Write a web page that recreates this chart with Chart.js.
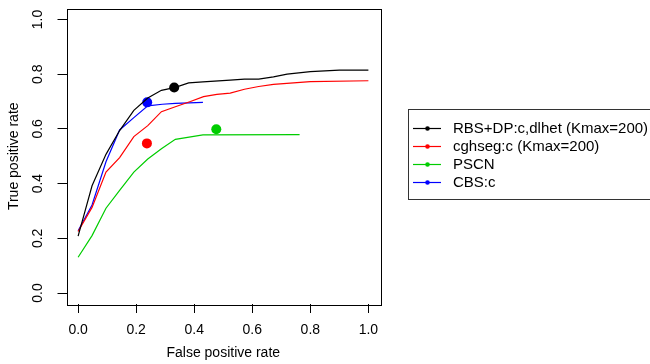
<!DOCTYPE html>
<html lang="en">
<head>
    <meta charset="UTF-8">
    <title>ROC curves</title>
    <script src="https://cdn.jsdelivr.net/npm/chart.js"></script>
    <style>
        body {
            margin: 0;
            padding: 0;
            background: #fff;
        }
        #wrap {
            width: 650px;
            height: 364px;
        }
    </style>
</head>
<body>

<div id="wrap">
    <canvas id="roc-chart" width="650" height="364"></canvas>
</div>

<script>
    // series names and colours (R palette 1..4)
    const seriesNames = ['RBS+DP:c,dlhet (Kmax=200)', 'cghseg:c (Kmax=200)', 'PSCN', 'CBS:c'];
    const seriesColors = ['#000000', '#ff0000', '#00cd00', '#0000ff'];

    // curves
    const rbsX = [0, 0.048, 0.096, 0.143, 0.192, 0.24, 0.287, 0.335, 0.381, 0.43, 0.524, 0.573, 0.622, 0.673, 0.72, 0.8, 0.9, 1.0];
    const rbsY = [0.208, 0.392, 0.507, 0.594, 0.668, 0.713, 0.741, 0.752, 0.768, 0.772, 0.778, 0.782, 0.782, 0.79, 0.80, 0.809, 0.815, 0.815];

    const cghX = [0, 0.048, 0.096, 0.143, 0.192, 0.24, 0.287, 0.335, 0.387, 0.432, 0.478, 0.524, 0.573, 0.622, 0.673, 0.8, 1.0];
    const cghY = [0.225, 0.313, 0.442, 0.495, 0.572, 0.612, 0.663, 0.681, 0.700, 0.718, 0.726, 0.731, 0.745, 0.755, 0.763, 0.773, 0.776];

    const pscnX = [0, 0.048, 0.096, 0.143, 0.192, 0.24, 0.287, 0.335, 0.43, 0.763];
    const pscnY = [0.131, 0.21, 0.31, 0.375, 0.442, 0.49, 0.527, 0.562, 0.578, 0.579];

    const cbsX = [0, 0.048, 0.096, 0.143, 0.192, 0.24, 0.29, 0.335, 0.43];
    const cbsY = [0.228, 0.322, 0.48, 0.596, 0.641, 0.684, 0.69, 0.693, 0.697];

    // single operating points (big dots)
    const dotX = [0.331, 0.237, 0.476, 0.238];
    const dotY = [0.751, 0.547, 0.599, 0.697];

    const axisTicks = [0, 0.2, 0.4, 0.6, 0.8, 1.0];

    const curvesX = [rbsX, cghX, pscnX, cbsX];
    const curvesY = [rbsY, cghY, pscnY, cbsY];

    const FONT = 'Liberation Sans, Arial, Helvetica, sans-serif';

    function toPoints(xs, ys) {
        return xs.map((x, i) => ({ x: x, y: ys[i] }));
    }

    const datasets = [];
    seriesNames.forEach((name, i) => {
        datasets.push({
            label: name,
            data: toPoints(curvesX[i], curvesY[i]),
            showLine: true,
            borderColor: seriesColors[i],
            backgroundColor: seriesColors[i],
            borderWidth: 1.2,
            pointRadius: 0,
            tension: 0
        });
    });
    seriesNames.forEach((name, i) => {
        datasets.push({
            label: name + ' point',
            data: [{ x: dotX[i], y: dotY[i] }],
            showLine: false,
            borderColor: seriesColors[i],
            backgroundColor: seriesColors[i],
            pointRadius: 5,
            pointBorderWidth: 0
        });
    });

    // box round the plot and the R style legend on the right
    const boxAndLegend = {
        id: 'boxAndLegend',
        afterDraw(chart) {
            const ctx = chart.ctx;
            const a = chart.chartArea;
            ctx.save();
            ctx.strokeStyle = '#000';
            ctx.lineWidth = 1;
            ctx.strokeRect(Math.round(a.left) + 0.5, Math.round(a.top) + 0.5,
                Math.round(a.right - a.left), Math.round(a.bottom - a.top));

            // legend
            ctx.strokeStyle = '#333';
            ctx.strokeRect(408.5, 109.5, 260, 90);
            ctx.font = '15px ' + FONT;
            ctx.textBaseline = 'middle';
            ctx.textAlign = 'left';
            seriesNames.forEach((name, i) => {
                const y = 128.5 + i * 18;
                ctx.strokeStyle = seriesColors[i];
                ctx.lineWidth = 1.2;
                ctx.beginPath();
                ctx.moveTo(413, y);
                ctx.lineTo(441, y);
                ctx.stroke();
                ctx.fillStyle = seriesColors[i];
                ctx.beginPath();
                ctx.arc(427.5, y, 2.3, 0, Math.PI * 2);
                ctx.fill();
                ctx.fillStyle = '#000';
                ctx.fillText(name, 453, y + 0.5);
            });
            ctx.restore();
        }
    };

    const axisCommon = {
        type: 'linear',
        min: -0.04,
        max: 1.04,
        afterBuildTicks: (scale) => {
            scale.ticks = axisTicks.map(v => ({ value: v }));
        },
        grid: {
            display: true,
            drawOnChartArea: false,
            drawTicks: true,
            tickLength: 9,
            tickColor: '#000',
            tickWidth: 1
        },
        border: { display: false }
    };

    new Chart(document.getElementById('roc-chart'), {
        type: 'scatter',
        data: { datasets: datasets },
        options: {
            responsive: false,
            animation: false,
            layout: { padding: { top: 8.5, right: 270, left: 0, bottom: 0 } },
            plugins: {
                legend: { display: false },
                tooltip: { enabled: false }
            },
            scales: {
                x: Object.assign({}, axisCommon, {
                    position: 'bottom',
                    afterFit: (scale) => {
                        scale.height = 60;
                        scale.paddingLeft = 0;
                        scale.paddingRight = 0;
                    },
                    ticks: {
                        color: '#000',
                        font: { family: FONT, size: 14 },
                        padding: 9,
                        callback: v => v.toFixed(1)
                    },
                    title: {
                        display: true,
                        text: 'False positive rate',
                        color: '#000',
                        font: { family: FONT, size: 14 },
                        padding: { top: 0, bottom: 2 }
                    }
                }),
                y: Object.assign({}, axisCommon, {
                    position: 'left',
                    afterFit: (scale) => {
                        scale.width = 66.5;
                        scale.paddingTop = 0;
                        scale.paddingBottom = 0;
                    },
                    ticks: {
                        color: '#000',
                        font: { family: FONT, size: 14 },
                        padding: 10,
                        minRotation: 90,
                        maxRotation: 90,
                        crossAlign: 'center',
                        callback: v => v.toFixed(1)
                    },
                    title: {
                        display: true,
                        text: 'True positive rate',
                        color: '#000',
                        font: { family: FONT, size: 14 },
                        padding: { top: 6, bottom: 0 }
                    }
                })
            }
        },
        plugins: [boxAndLegend]
    });
</script>

</body>
</html>
